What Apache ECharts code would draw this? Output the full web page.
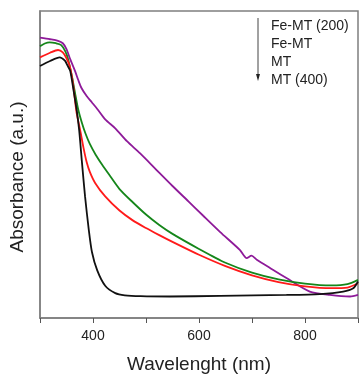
<!DOCTYPE html>
<html>
<head>
<meta charset="utf-8">
<script src="https://cdn.jsdelivr.net/npm/echarts@6/dist/echarts.min.js"></script>
<style>html,body{margin:0;padding:0;background:#fff}#c{width:360px;height:374px}</style>
</head>
<body>
<div id="c"></div>
<script>
const seriesNames = ['Fe-MT (200)', 'Fe-MT', 'MT', 'MT (400)'];
const xTickLabels = [400, 600, 800];
const purpleData = [[300,91.3],[319,90.8],[334,90.3],[343,89.5],[350,87.6],[357,84.3],[366,80.5],[372,77.6],[378,75.0],[388,72.3],[398,70.2],[408,68.1],[423,64.7],[442,61.8],[464,57.6],[489,53.6],[520,48.2],[550,43.0],[580,38.0],[608,33.3],[640,28.0],[677,22.2],[690,19.5],[699,20.3],[709,19.0],[734,16.3],[765,13.0],[809,8.6],[847,7.5],[885,7.0],[900,7.5]];
const greenData = [[300,88.5],[309,89.4],[318,89.8],[330,89.5],[340,88.9],[348,86.8],[353,84.3],[360,78.9],[366,73.4],[372,68.0],[379,63.6],[386,60.0],[394,56.7],[405,53.2],[417,50.0],[430,46.8],[450,42.0],[475,37.7],[500,33.7],[525,30.3],[550,27.4],[600,22.5],[650,18.0],[700,14.8],[750,12.6],[800,11.2],[850,10.6],[880,11.0],[900,12.4]];
const redData = [[300,84.9],[319,86.4],[334,87.3],[343,86.5],[350,84.6],[356,82.1],[362,76.7],[369,66.9],[376,61.0],[382,55.5],[388,50.8],[394,47.6],[404,44.0],[423,39.6],[450,35.0],[475,31.8],[500,29.3],[525,27.0],[550,24.8],[600,20.6],[650,16.9],[700,13.9],[750,11.7],[800,10.3],[850,9.7],[880,9.9],[900,11.3]];
const blackData = [[300,82.1],[319,83.7],[337,84.9],[347,83.8],[352,82.2],[357,80.5],[363,74.5],[369,68.0],[374,61.0],[379,51.0],[385,39.6],[392,28.8],[398,21.5],[408,15.5],[423,10.5],[442,8.1],[460,7.4],[490,7.1],[545,7.0],[640,7.2],[765,7.5],[828,7.8],[872,8.6],[891,9.7],[900,11.9]];

const chart = echarts.init(document.getElementById('c'));
const font = 'Liberation Sans, Arial, sans-serif';
const mk = (name, data, color) => ({
  name, type: 'line', data, showSymbol: false, smooth: 0.25,
  lineStyle: { color, width: 1.8 }, itemStyle: { color }, z: 3
});
chart.setOption({
  animation: false,
  grid: { left: 40, top: 11, right: 2, bottom: 56, show: true, borderColor: '#7f7f7f', borderWidth: 1.5, outerBoundsMode: 'none', containLabel: false },
  xAxis: {
    type: 'value', min: 300, max: 900, interval: 100,
    name: 'Wavelenght (nm)', nameLocation: 'middle', nameGap: 37,
    nameTextStyle: { fontFamily: font, fontSize: 19, color: '#222' },
    axisLine: { lineStyle: { color: '#7f7f7f', width: 1.5 } },
    axisTick: { show: true, length: 5, lineStyle: { color: '#555', width: 1 } },
    splitLine: { show: false },
    axisLabel: { fontFamily: font, fontSize: 14, color: '#222', margin: 11,
      formatter: v => xTickLabels.includes(v) ? String(v) : '' }
  },
  yAxis: {
    type: 'value', min: 0, max: 100,
    name: 'Absorbance (a.u.)', nameLocation: 'middle', nameGap: 13, nameRotate: 90,
    nameTextStyle: { fontFamily: font, fontSize: 19, color: '#222', padding: [0, 0, 0, -25] },
    axisLine: { show: true, lineStyle: { color: '#7f7f7f', width: 1.5 } },
    axisTick: { show: false }, axisLabel: { show: false }, splitLine: { show: false }
  },
  series: [
    mk(seriesNames[0], purpleData, '#8e1a99'),
    mk(seriesNames[1], greenData, '#15861a'),
    mk(seriesNames[2], redData, '#ff1a1a'),
    mk(seriesNames[3], blackData, '#111111')
  ],
  graphic: [
    { type: 'line', shape: { x1: 258, y1: 18, x2: 258, y2: 78 }, style: { stroke: '#444', lineWidth: 1 } },
    { type: 'polygon', shape: { points: [[256, 74], [260, 74], [258, 81]] }, style: { fill: '#222' } },
    ...seriesNames.map((t, i) => ({
      type: 'text', left: 271, top: 19 + i * 18,
      style: { text: t, fontFamily: font, fontSize: 14, fill: '#222' }
    }))
  ]
});
</script>
</body>
</html>
